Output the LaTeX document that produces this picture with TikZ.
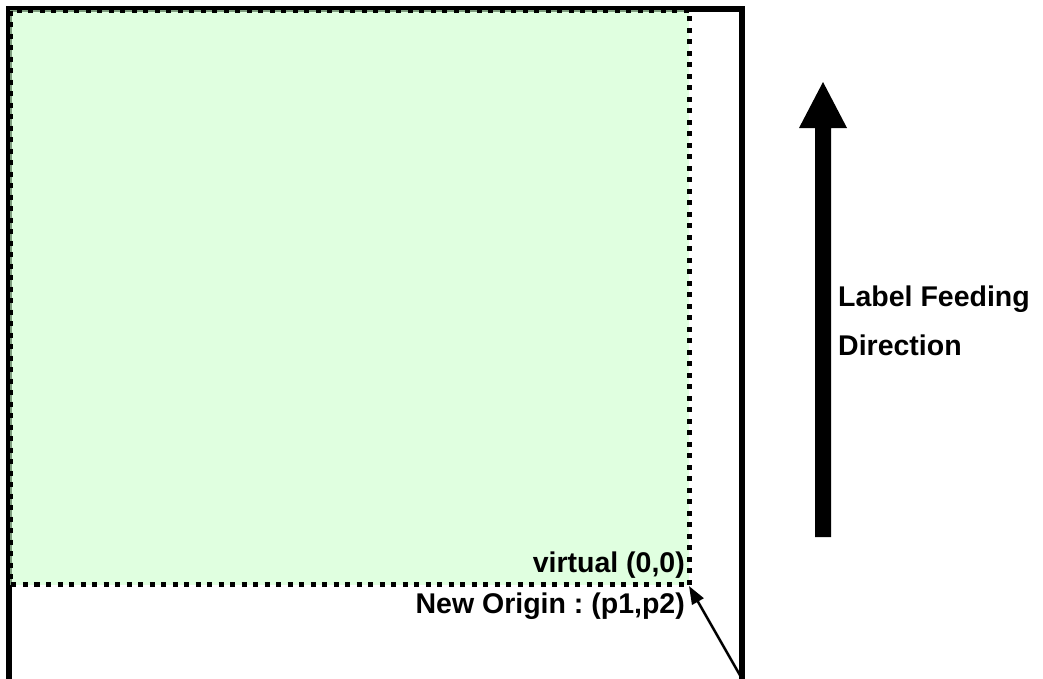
\documentclass[tikz,border=0pt]{standalone}
\usepackage{fontspec}
\setmainfont{Liberation Sans}
\usetikzlibrary{arrows.meta}

\definecolor{labelgreen}{RGB}{205,255,205}

\tikzset{
    txt/.style={inner sep=0pt, font=\fontsize{28.5}{34}\selectfont\bfseries\frenchspacing},
    dotted border/.style={line width=5pt, dash pattern=on 5pt off 6.5pt},
}

\begin{document}
\begin{tikzpicture}[x=1pt, y=-1pt]
            \useasboundingbox (0, 0) rectangle (1043, 678);
            \clip (0, 0) rectangle (1043, 678);

            \draw [line width=6pt] (9, 8.5) rectangle (742, 690);

            \fill [labelgreen, fill opacity=0.62] (10, 9.5) rectangle (689, 584.5);
            \draw [dotted border] (689, 584.5) rectangle (10.5, 10);

            \coordinate (virtual origin) at (689, 586);
            \coordinate (new origin) at (741, 677);

            \node [txt, anchor=base east] (virtual label) at (685, 572) {virtual (0,0)};
            \node [txt, anchor=base east] (origin label) at (685, 613) {New Origin : (p1,p2)};

            \draw [line width=2.5pt, -{Triangle[length=18pt, width=13pt]}] (new origin) -- (virtual origin);

            \fill (815, 537) -- (815, 128) -- (799, 128) -- (823, 82)
                -- (847, 128) -- (831, 128) -- (831, 537) -- cycle;

            \node [txt, anchor=base west] (feeding label) at (838, 306) {Label Feeding};
            \node [txt, anchor=base west] (direction label) at (838, 355) {Direction};
    \end{tikzpicture}
\end{document}
